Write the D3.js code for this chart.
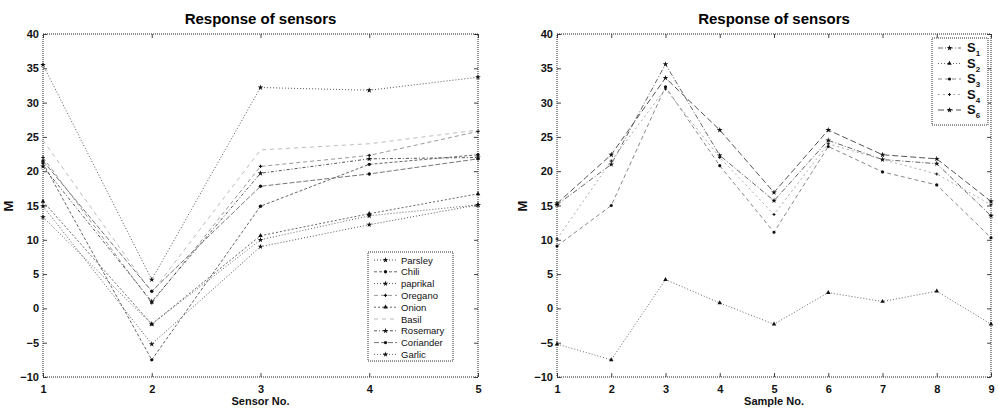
<!DOCTYPE html>
<html>
<head>
<meta charset="UTF-8">
<script src="https://d3js.org/d3.v7.min.js"></script>
<style>
  body { margin: 0; background: #fff; font-family: Arial, "Liberation Sans", sans-serif; }
  .tick text { font-size: 11px; font-weight: bold; fill: #111; }
  .ttl { font-size: 15px; font-weight: bold; fill: #000; }
  .alab { font-size: 11px; font-weight: bold; fill: #111; }
  .leg text { font-size: 9.5px; fill: #111; }
</style>
</head>
<body>
<svg id="fig" width="998" height="412"></svg>
<script>
// left panel: sensor response per spice (x = sensor no.)
const sensors = [1, 2, 3, 4, 5];
const spices = ["Parsley", "Chili", "paprikal", "Oregano", "Onion", "Basil", "Rosemary", "Coriander", "Garlic"];
const parsley   = [14.9, -5.2,  9.0, 12.2, 15.1];
const chili     = [21.2, -7.5, 14.9, 21.0, 22.4];
const paprikal  = [35.5,  4.2, 32.2, 31.8, 33.7];
const oregano   = [22.0,  0.8, 20.7, 22.3, 25.8];
const onion     = [15.6, -2.3, 10.6, 13.8, 16.7];
const basil     = [24.5,  2.3, 23.1, 24.0, 26.0];
const rosemary  = [20.7,  1.0, 19.7, 21.8, 22.0];
const coriander = [21.5,  2.5, 17.8, 19.6, 21.8];
const garlic    = [13.3, -2.3, 10.0, 13.5, 15.1];
const leftSeries = [parsley, chili, paprikal, oregano, onion, basil, rosemary, coriander, garlic];

// right panel: each sensor across samples (x = sample no.)
const samples = [1, 2, 3, 4, 5, 6, 7, 8, 9];
const sensorNames = ["1", "2", "3", "4", "6"];
const s1 = [15.1, 21.0, 35.6, 22.3, 15.7, 24.5, 21.7, 21.1, 13.5];
const s2 = [-5.2, -7.5,  4.2,  0.8, -2.3,  2.3,  1.0,  2.5, -2.3];
const s3 = [ 9.1, 15.0, 32.3, 20.8, 11.1, 23.6, 19.9, 18.0, 10.3];
const s4 = [10.1, 21.5, 32.0, 22.0, 13.7, 24.0, 21.7, 19.6, 15.1];
const s6 = [15.3, 22.4, 33.6, 26.0, 16.9, 26.0, 22.4, 21.8, 15.6];
const rightSeries = [s1, s2, s3, s4, s6];

const yTicks = [-10, -5, 0, 5, 10, 15, 20, 25, 30, 35, 40];

// grayscale scan look: line styles per series
const leftStyle = [
  { c: "#555", d: "1,2",     m: d3.symbolStar,     ms: 10 },
  { c: "#666", d: "3,2",     m: d3.symbolCircle,   ms: 9  },
  { c: "#555", d: "1,2",     m: d3.symbolStar,     ms: 10 },
  { c: "#999", d: "4,3",     m: d3.symbolCross,    ms: 6  },
  { c: "#666", d: "2,2",     m: d3.symbolTriangle, ms: 9  },
  { c: "#bbb", d: "4,4",     m: null,              ms: 0  },
  { c: "#555", d: "3,2,1,2", m: d3.symbolStar,     ms: 10 },
  { c: "#777", d: "5,2",     m: d3.symbolCircle,   ms: 9  },
  { c: "#666", d: "1,2",     m: d3.symbolStar,     ms: 10 }
];
const rightStyle = [
  { c: "#666", d: "5,2,1,2", m: d3.symbolStar,     ms: 10 },
  { c: "#666", d: "1,2",     m: d3.symbolTriangle, ms: 9  },
  { c: "#888", d: "4,3",     m: d3.symbolCircle,   ms: 8  },
  { c: "#aaa", d: "2,3",     m: d3.symbolCross,    ms: 5  },
  { c: "#555", d: "6,3",     m: d3.symbolStar,     ms: 10 }
];

const svg = d3.select("#fig");

function panel(opt) {
  const x = d3.scaleLinear().domain(opt.xDomain).range([opt.x0, opt.x1]);
  const y = d3.scaleLinear().domain([-10, 40]).range([377, 34]);
  const g = svg.append("g");

  // axes with inward ticks (all four sides)
  g.append("g").attr("transform", "translate(0,377)")
    .call(d3.axisBottom(x).tickValues(opt.xVals).tickFormat(d3.format("d")).tickSizeInner(-4).tickSizeOuter(0).tickPadding(8));
  g.append("g").attr("transform", `translate(${opt.x0},0)`)
    .call(d3.axisLeft(y).tickValues(yTicks).tickSizeInner(-4).tickSizeOuter(0).tickPadding(4));
  g.append("g").attr("transform", "translate(0,34)")
    .call(d3.axisTop(x).tickValues(opt.xVals).tickFormat("").tickSizeInner(-4).tickSizeOuter(0));
  g.append("g").attr("transform", `translate(${opt.x1},0)`)
    .call(d3.axisRight(y).tickValues(yTicks).tickFormat("").tickSizeInner(-4).tickSizeOuter(0));
  g.selectAll(".domain").remove();
  g.selectAll(".tick line").attr("stroke", "#444");

  // dotted frame
  g.append("rect").attr("x", opt.x0).attr("y", 34)
    .attr("width", opt.x1 - opt.x0).attr("height", 343)
    .attr("fill", "none").attr("stroke", "#222").attr("stroke-width", 1)
    .attr("stroke-dasharray", "1,1");

  const line = d3.line().x((d, i) => x(opt.xVals[i])).y(d => y(d));
  opt.series.forEach((vals, k) => {
    const st = opt.styles[k];
    g.append("path").datum(vals)
      .attr("d", line).attr("fill", "none")
      .attr("stroke", st.c).attr("stroke-width", 1)
      .attr("stroke-dasharray", st.d);
    if (st.m) {
      g.selectAll(null).data(vals).enter().append("path")
        .attr("d", d3.symbol().type(st.m).size(st.ms))
        .attr("transform", (d, i) => `translate(${x(opt.xVals[i])},${y(d)})`)
        .attr("fill", "#111");
    }
  });

  const cx = (opt.x0 + opt.x1) / 2;
  g.append("text").attr("class", "ttl").attr("x", cx).attr("y", 24)
    .attr("text-anchor", "middle").text("Response of sensors");
  g.append("text").attr("class", "alab").attr("x", cx).attr("y", 405)
    .attr("text-anchor", "middle").text(opt.xLabel);
  g.append("text").attr("class", "alab").style("font-size", "13px")
    .attr("transform", `translate(${opt.x0 - 30},206) rotate(-90)`)
    .attr("text-anchor", "middle").text("M");
  return g;
}

panel({ x0: 43, x1: 478, xDomain: [1, 5], xVals: sensors,
        series: leftSeries, styles: leftStyle, xLabel: "Sensor No." });
panel({ x0: 557, x1: 991, xDomain: [1, 9], xVals: samples,
        series: rightSeries, styles: rightStyle, xLabel: "Sample No." });

// left legend
const legL = svg.append("g").attr("class", "leg");
legL.append("rect").attr("x", 368).attr("y", 252).attr("width", 85).attr("height", 109)
  .attr("fill", "#fff").attr("stroke", "#333").attr("stroke-dasharray", "1,1");
spices.forEach((name, i) => {
  const yy = 260 + i * 11.8, st = leftStyle[i];
  legL.append("line").attr("x1", 374).attr("x2", 397).attr("y1", yy).attr("y2", yy)
    .attr("stroke", st.c).attr("stroke-dasharray", st.d);
  if (st.m) legL.append("path").attr("d", d3.symbol().type(st.m).size(st.ms))
    .attr("transform", `translate(385.5,${yy})`).attr("fill", "#111");
  legL.append("text").attr("x", 401).attr("y", yy + 3.5).text(name);
});

// right legend
const legR = svg.append("g").attr("class", "leg");
legR.append("rect").attr("x", 932).attr("y", 38).attr("width", 56).attr("height", 87)
  .attr("fill", "#fff").attr("stroke", "#333").attr("stroke-dasharray", "1,1");
sensorNames.forEach((n, i) => {
  const yy = 48 + i * 15.5, st = rightStyle[i];
  legR.append("line").attr("x1", 938).attr("x2", 961).attr("y1", yy).attr("y2", yy)
    .attr("stroke", st.c).attr("stroke-dasharray", st.d);
  legR.append("path").attr("d", d3.symbol().type(st.m).size(st.ms))
    .attr("transform", `translate(949.5,${yy})`).attr("fill", "#111");
  const t = legR.append("text").attr("x", 967).attr("y", yy + 4)
    .style("font-size", "13px").style("font-weight", "bold").text("S");
  t.append("tspan").attr("dy", 4).style("font-size", "8px").text(n);
});
</script>
</body>
</html>
